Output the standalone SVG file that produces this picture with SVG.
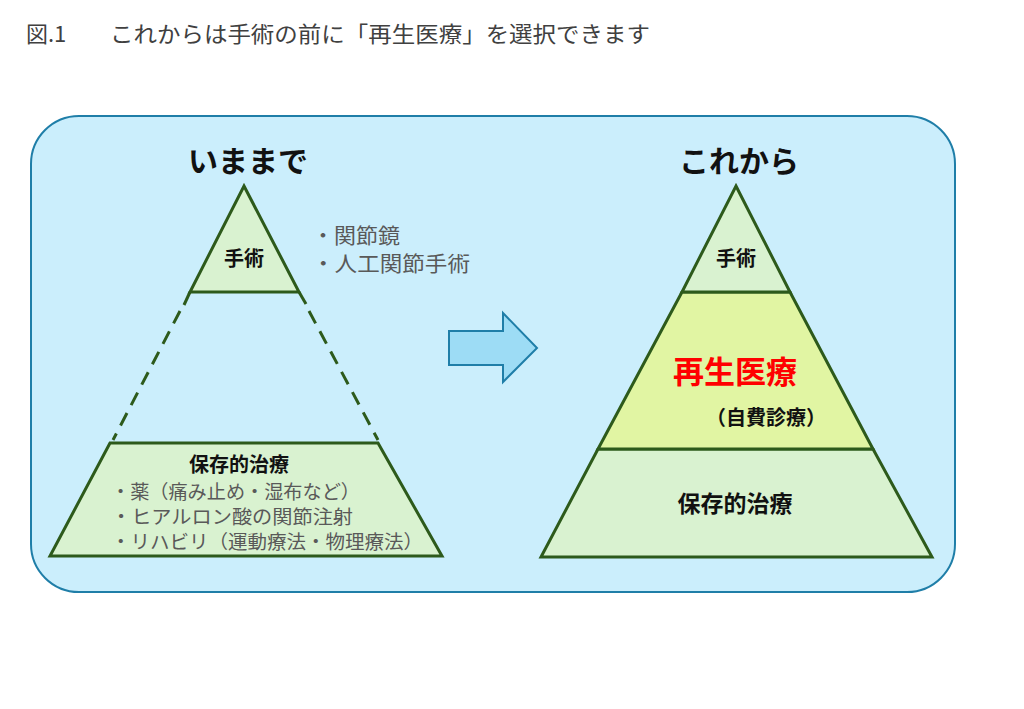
<svg xmlns="http://www.w3.org/2000/svg" width="1024" height="709" viewBox="0 0 1024 709">
<style>
text{font-family:"Noto Sans CJK JP","Noto Sans",sans-serif}
.title{font-size:22px;fill:#404040}
.head{font-size:30px;font-weight:bold;fill:#111;text-anchor:middle}
.lbl{font-size:20px;font-weight:bold;fill:#111;text-anchor:middle}
.gray{font-size:19px;fill:#595959}
.note{font-size:21px;fill:#595959}
.red{font-size:31px;font-weight:bold;fill:#ff0000;text-anchor:middle}
.big{font-size:23px;font-weight:bold;fill:#111;text-anchor:middle}
.shape{stroke:#2d5a1b;stroke-width:3;stroke-linejoin:miter}
.dash{stroke:#2d5a1b;stroke-width:3;stroke-dasharray:14 9;fill:none}
</style>
<rect width="1024" height="709" fill="#fff"/>
<text class="title" x="26" y="42">図.1</text>
<text class="title" x="110" y="42" textLength="540" lengthAdjust="spacingAndGlyphs">これからは手術の前に「再生医療」を選択できます</text>
<rect x="31" y="116" width="924" height="476" rx="48" ry="48" fill="#cbeefc" stroke="#1f7ea8" stroke-width="2"/>
<g id="left-heading"><text class="head" x="248" y="172">いままで</text></g>
<g id="connectors">
<line class="shape" x1="190" y1="292" x2="184" y2="305" fill="none"/>
<line class="shape" x1="299" y1="292" x2="306" y2="304" fill="none"/>
<line class="dash" x1="180" y1="311" x2="113" y2="440"/>
<line class="dash" x1="309" y1="311" x2="378" y2="440"/>
<path d="M449 331 H503 V313 L537 348 L503 382 V365 H449 Z" fill="#9ddcf5" stroke="#1f7ea8" stroke-width="2"/>
</g>
<g id="left-surgery">
<polygon class="shape" points="244,186 299,292 190,292" fill="#d9f2d0"/>
<text class="lbl" x="244" y="266">手術</text>
</g>
<g id="left-surgery-notes">
<text class="note" x="312" y="243" textLength="88" lengthAdjust="spacingAndGlyphs">・関節鏡</text>
<text class="note" x="312" y="271" textLength="158" lengthAdjust="spacingAndGlyphs">・人工関節手術</text>
</g>
<g id="left-conservative">
<polygon class="shape" points="110,443 378,443 442,556 50,556" fill="#d9f2d0"/>
<text class="lbl" x="239" y="472">保存的治療</text>
<text class="gray" x="111" y="499" textLength="249" lengthAdjust="spacingAndGlyphs">・薬（痛み止め・湿布など）</text>
<text class="gray" x="111" y="524" textLength="242" lengthAdjust="spacingAndGlyphs">・ヒアルロン酸の関節注射</text>
<text class="gray" x="111" y="549" textLength="312" lengthAdjust="spacingAndGlyphs">・リハビリ（運動療法・物理療法）</text>
</g>
<g id="right-heading"><text class="head" x="739" y="172">これから</text></g>
<g id="right-conservative">
<polygon class="shape" points="598,449 873,449 932,557 541,557" fill="#d9f2d0"/>
<text class="big" x="735" y="512">保存的治療</text>
</g>
<g id="right-regenerative">
<polygon class="shape" points="682,292 790,292 873,449 598,449" fill="#e1f5a3"/>
<text class="red" x="735" y="383">再生医療</text>
<text class="lbl" x="766" y="425">（自費診療）</text>
</g>
<g id="right-surgery">
<polygon class="shape" points="736,186 790,292 682,292" fill="#d9f2d0"/>
<text class="lbl" x="736" y="266">手術</text>
</g>
</svg>
